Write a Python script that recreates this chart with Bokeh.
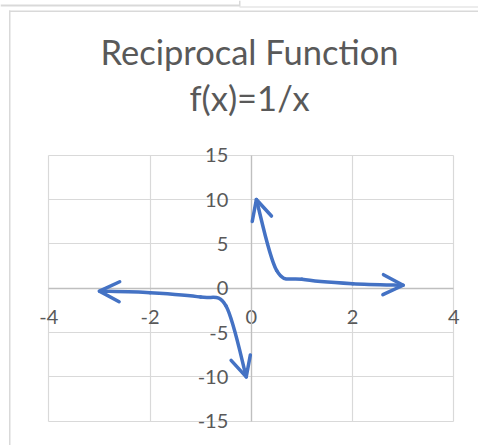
import numpy as np
from bokeh.plotting import figure
from bokeh.models import (FixedTicker, Range1d, Label, BoxAnnotation, Arrow,
                          OpenHead, ColumnDataSource)
from bokeh.embed import file_html
from bokeh.resources import INLINE

# f(x) = 1/x, one list pair per branch
x_neg = [-3, -2, -1, -0.5, -0.1]
y_neg = [-0.333, -0.5, -1, -2, -10]
x_pos = [0.1, 0.5, 1, 2, 3]
y_pos = [10, 2, 1, 0.5, 0.333]

x_ticks = [-4, -2, 0, 2, 4]
y_ticks = [-15, -10, -5, 0, 5, 10, 15]

title_lines = ["Reciprocal Function", "f(x)=1/x"]

W, H = 478, 445
BLUE = "#4472C4"
TEXT = "#595959"
GRID = "#D9D9D9"
AXIS = "#BFBFBF"

# frame covers the whole canvas; the ranges put the +-4 / +-15 grid box inside it
p = figure(width=W, height=H, output_backend="svg", toolbar_location=None,
           title=None, x_range=Range1d(-4.954, 4.488),
           y_range=Range1d(-17.74, 32.45), min_border=0,
           outline_line_color=None, background_fill_color="white",
           border_fill_color="white")

# axes crossing at the origin
p.xaxis.fixed_location = 0
p.yaxis.fixed_location = 0
p.xaxis.bounds = (x_ticks[0], x_ticks[-1])
p.yaxis.bounds = (y_ticks[0], y_ticks[-1])
p.xaxis.ticker = FixedTicker(ticks=x_ticks)
p.yaxis.ticker = FixedTicker(ticks=y_ticks)
# plain hyphen-minus in the tick labels
p.xaxis.major_label_overrides = {t: str(t) for t in x_ticks}
p.yaxis.major_label_overrides = {t: str(t) for t in y_ticks}
for ax in (p.xaxis, p.yaxis):
    ax.major_tick_line_color = None
    ax.minor_tick_line_color = None
    ax.major_tick_out = 0
    ax.major_tick_in = 0
    ax.axis_line_color = AXIS
    ax.axis_line_width = 1.3
    ax.major_label_text_font = "Lato"
    ax.major_label_text_font_size = "20px"
    ax.major_label_text_color = TEXT
p.xaxis.major_label_standoff = 22
p.yaxis.major_label_standoff = 23

# gridlines limited to the tick box
p.xgrid.ticker = FixedTicker(ticks=x_ticks)
p.ygrid.ticker = FixedTicker(ticks=y_ticks)
p.xgrid.cross_bounds = (y_ticks[0], y_ticks[-1])
p.ygrid.cross_bounds = (x_ticks[0], x_ticks[-1])
for g in (p.xgrid, p.ygrid):
    g.grid_line_color = GRID
    g.grid_line_width = 1.2


def smooth_segments(xs, ys):
    """Cubic Bezier pieces of a smoothed line through the given points."""
    P = np.column_stack([xs, ys]).astype(float)
    Q = np.vstack([P[:1], P, P[-1:]])
    a, b = Q[1:-2], Q[2:-1]
    prev, nxt = Q[:-3], Q[3:]
    c0 = a + (b - prev) / 6.0
    c1 = b - (nxt - a) / 6.0
    return dict(x0=a[:, 0], y0=a[:, 1], x1=b[:, 0], y1=b[:, 1],
                cx0=c0[:, 0], cy0=c0[:, 1], cx1=c1[:, 0], cy1=c1[:, 1])


heads = dict(xs=[], ys=[], xe=[], ye=[])
for xs, ys in ((x_neg, y_neg), (x_pos, y_pos)):
    seg = smooth_segments(xs, ys)
    p.bezier(x0="x0", y0="y0", x1="x1", y1="y1", cx0="cx0", cy0="cy0",
             cx1="cx1", cy1="cy1", source=ColumnDataSource(seg),
             line_color=BLUE, line_width=3.5, line_cap="round")
    # open arrowheads at both ends, along the curve's end tangents
    heads["xs"] += [seg["cx0"][0], seg["cx1"][-1]]
    heads["ys"] += [seg["cy0"][0], seg["cy1"][-1]]
    heads["xe"] += [xs[0], xs[-1]]
    heads["ye"] += [ys[0], ys[-1]]

p.add_layout(Arrow(end=OpenHead(size=20, line_color=BLUE, line_width=3.5,
                                line_cap="round", line_join="round"),
                   source=ColumnDataSource(heads), x_start="xs", y_start="ys",
                   x_end="xe", y_end="ye", line_alpha=0))

for text, base in zip(title_lines, [51, 97]):
    p.add_layout(Label(x=249, y=H - base, x_units="screen", y_units="screen",
                       text=text, text_align="center",
                       text_baseline="alphabetic", text_font="Lato",
                       text_font_size="34.5px", text_color=TEXT))


def rule(left, right, top, bottom):
    p.add_layout(BoxAnnotation(left=left, right=right, top=H - top,
                               bottom=H - bottom, left_units="screen",
                               right_units="screen", top_units="screen",
                               bottom_units="screen", fill_color=GRID,
                               fill_alpha=1, line_color=None,
                               level="underlay"))


# sheet cell edges above the chart and the chart area border
rule(0, 239, 4, 6)
rule(238.5, 240, 0, 6)
rule(239, W, 6, 7)
rule(8.5, W, 10, 11.5)
rule(8.5, 10, 10, H)

open("out.html", "w").write(file_html(p, INLINE))
